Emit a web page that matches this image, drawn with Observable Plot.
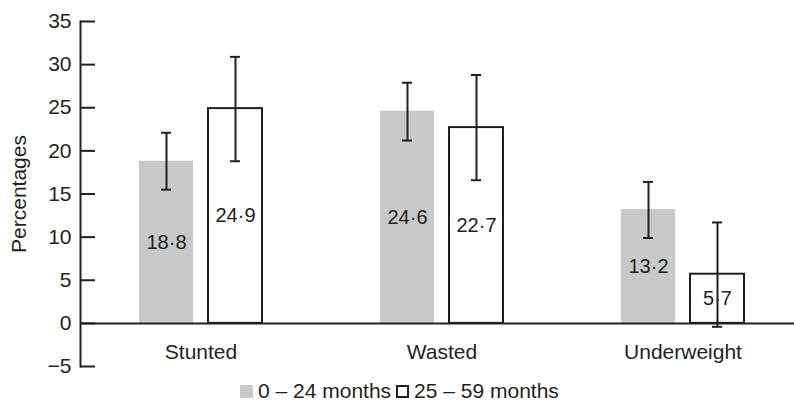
<!DOCTYPE html>
<html><head><meta charset="utf-8">
<script src="https://cdn.jsdelivr.net/npm/d3@7"></script>
<script src="https://cdn.jsdelivr.net/npm/@observablehq/plot@0.6"></script>
<style>
body{margin:0;background:#fff;font-family:"Liberation Sans",Arial,Helvetica,sans-serif;color:#231f20}
#chart svg{display:block}
.legend{display:flex;align-items:center;padding-left:240px;margin-top:9px;font-size:21px;line-height:24px;white-space:pre}
.sw{width:13px;height:13px;display:inline-block;box-sizing:border-box;flex:none}
</style></head><body><div id="chart"></div><div class="legend" id="legend"></div>
<script>
const categories = ["Stunted", "Wasted", "Underweight"];
const series = ["0 – 24 months", "25 – 59 months"];
const values0to24 = [18.8, 24.6, 13.2];
const lower0to24 = [15.5, 21.2, 9.9];
const upper0to24 = [22.1, 27.9, 16.4];
const values25to59 = [24.9, 22.7, 5.7];
const lower25to59 = [18.8, 16.6, -0.4];
const upper25to59 = [30.9, 28.8, 11.7];
const yTicks = [-5, 0, 5, 10, 15, 20, 25, 30, 35];

const INK = "#231f20";
const GRAY = "#c7c8ca";

const rows = [];
categories.forEach((c, i) => {
  rows.push({category: c, series: series[0], value: values0to24[i], lo: lower0to24[i], hi: upper0to24[i]});
  rows.push({category: c, series: series[1], value: values25to59[i], lo: lower25to59[i], hi: upper25to59[i]});
});
const fmt = v => v.toFixed(1).replace(".", "·");

const chart = Plot.plot({
  width: 794, height: 370,
  marginTop: 21, marginBottom: 4, marginLeft: 80, marginRight: 0,
  style: {fontFamily: '"Liberation Sans", Arial, Helvetica, sans-serif', fontSize: "21px", color: INK, background: "white", overflow: "visible"},
  fx: {domain: categories, range: [80, 803], padding: 0, label: null},
  x: {domain: series, paddingInner: 0.223, paddingOuter: 0.845, axis: null},
  y: {domain: [-5, 35]},
  marks: [
    Plot.barY(rows, {filter: d => d.series === series[0], fx: "category", x: "series", y: "value", fill: GRAY}),
    Plot.barY(rows, {filter: d => d.series === series[1], fx: "category", x: "series", y: "value", fill: "white", stroke: INK, strokeWidth: 2}),
    Plot.text(rows, {fx: "category", x: "series", y: d => d.value / 2, text: d => fmt(d.value), fontSize: 20, fill: INK}),
    Plot.ruleX(rows, {fx: "category", x: "series", y1: "lo", y2: "hi", stroke: INK, strokeWidth: 2}),
    Plot.tickY(rows, {fx: "category", x: "series", y: "lo", stroke: INK, strokeWidth: 2, insetLeft: 22, insetRight: 22}),
    Plot.tickY(rows, {fx: "category", x: "series", y: "hi", stroke: INK, strokeWidth: 2, insetLeft: 22, insetRight: 22}),
    Plot.ruleY([0], {stroke: INK, strokeWidth: 2}),
    Plot.frame({anchor: "left", facetAnchor: "left", stroke: INK, strokeWidth: 2}),
    Plot.tickY(yTicks, {y: d => d, facetAnchor: "left", insetRight: 226, stroke: INK, strokeWidth: 2}),
    Plot.axisY({ticks: yTicks, tickSize: 0, tickPadding: 9, fontSize: 21, label: "Percentages", labelAnchor: "center", labelOffset: 69, labelArrow: false}),
    Plot.axisFx({anchor: "bottom", tickSize: 0, label: null, dy: -31, fontSize: 21})
  ]
});
document.getElementById("chart").appendChild(chart);

const legend = document.getElementById("legend");
series.forEach((s, i) => {
  const sw = document.createElement("span");
  sw.className = "sw";
  if (i === 0) { sw.style.background = GRAY; }
  else { sw.style.background = "white"; sw.style.border = "2px solid " + INK; sw.style.marginLeft = "5px"; }
  legend.appendChild(sw);
  const t = document.createElement("span");
  t.textContent = s;
  t.style.marginLeft = "5px";
  legend.appendChild(t);
});
</script></body></html>
